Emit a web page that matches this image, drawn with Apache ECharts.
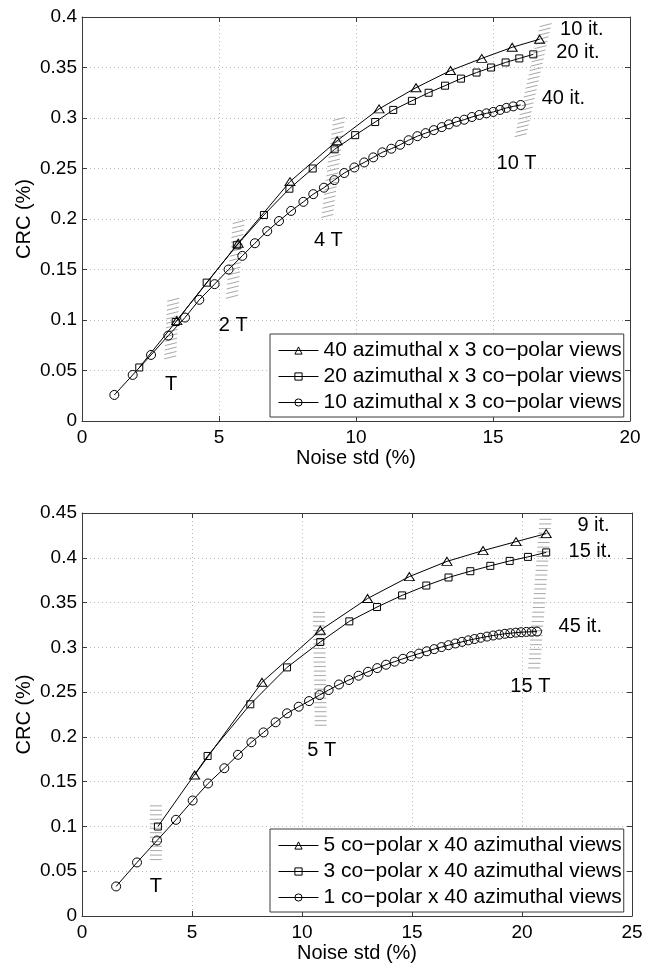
<!DOCTYPE html>
<html>
<head>
<meta charset="utf-8">
<script src="https://cdn.jsdelivr.net/npm/echarts@6/dist/echarts.min.js"></script>
<style>
html,body{margin:0;padding:0;background:#fff;}
#chart{width:656px;height:971px;}
</style>
</head>
<body>
<div id="chart"></div>
<script>
// ---------- Top chart data ----------
const topNames = ['40 azimuthal x 3 co\u2212polar views', '20 azimuthal x 3 co\u2212polar views', '10 azimuthal x 3 co\u2212polar views'];
const topTriX = [3.46, 5.70, 7.59, 9.31, 10.84, 12.19, 13.45, 14.59, 15.70, 16.70];
const topTriY = [0.0994, 0.176, 0.237, 0.2775, 0.309, 0.330, 0.347, 0.359, 0.370, 0.378];
const topSqX = [2.09, 3.42, 4.55, 5.65, 6.64, 7.57, 8.42, 9.22, 9.97, 10.70, 11.36, 12.04, 12.65, 13.25, 13.83, 14.40, 14.93, 15.46, 15.96, 16.47];
const topSqY = [0.053, 0.098, 0.137, 0.174, 0.204, 0.230, 0.250, 0.269, 0.283, 0.296, 0.308, 0.317, 0.325, 0.332, 0.339, 0.345, 0.350, 0.355, 0.359, 0.363];
const topCircX = [1.18, 1.85, 2.52, 3.15, 3.76, 4.28, 4.84, 5.35, 5.85, 6.31, 6.76, 7.19, 7.63, 8.08, 8.44, 8.83, 9.21, 9.57, 9.94, 10.30, 10.63, 10.96, 11.29, 11.61, 11.92, 12.24, 12.54, 12.84, 13.13, 13.39, 13.67, 13.95, 14.23, 14.50, 14.76, 15.01, 15.26, 15.49, 15.74, 16.01];
const topCircY = [0.0258, 0.0456, 0.0654, 0.0846, 0.1024, 0.120, 0.1355, 0.150, 0.1635, 0.176, 0.188, 0.198, 0.208, 0.217, 0.2246, 0.231, 0.2385, 0.2455, 0.251, 0.256, 0.261, 0.266, 0.2696, 0.2735, 0.278, 0.282, 0.285, 0.288, 0.291, 0.2937, 0.2963, 0.2983, 0.301, 0.303, 0.3046, 0.306, 0.308, 0.310, 0.3115, 0.3129];
// iso-time hatch bands: [x bottom, y bottom, x top, y top]
const topBandX0 = [3.22, 5.47, 8.95, 16.01];
const topBandY0 = [0.063, 0.123, 0.203, 0.283];
const topBandX1 = [3.33, 5.72, 9.38, 16.92];
const topBandY1 = [0.120, 0.197, 0.299, 0.392];
const topAnnText = ['10 it.', '20 it.', '40 it.', '10 T', '4 T', '2 T', 'T'];
const topAnnX = [18.24, 18.10, 17.57, 15.86, 8.99, 5.52, 3.25];
const topAnnY = [0.388, 0.365, 0.319, 0.255, 0.179, 0.0945, 0.036];
const topXTicks = [0, 5, 10, 15, 20];
const topYTicks = [0, 0.05, 0.1, 0.15, 0.2, 0.25, 0.3, 0.35, 0.4];

// ---------- Bottom chart data ----------
const botNames = ['5 co\u2212polar x 40 azimuthal views', '3 co\u2212polar x 40 azimuthal views', '1 co\u2212polar x 40 azimuthal views'];
const botTriX = [5.12, 8.18, 10.83, 12.98, 14.88, 16.59, 18.23, 19.73, 21.10];
const botTriY = [0.1575, 0.261, 0.319, 0.3545, 0.379, 0.396, 0.408, 0.418, 0.427];
const botSqX = [3.45, 5.71, 7.65, 9.32, 10.83, 12.15, 13.41, 14.55, 15.65, 16.66, 17.65, 18.56, 19.44, 20.27, 21.10];
const botSqY = [0.0999, 0.1787, 0.2364, 0.2776, 0.306, 0.329, 0.345, 0.358, 0.369, 0.378, 0.385, 0.391, 0.3965, 0.401, 0.406];
const botCircX = [1.55, 2.50, 3.41, 4.27, 5.03, 5.73, 6.47, 7.09, 7.70, 8.25, 8.80, 9.32, 9.85, 10.32, 10.80, 11.21,
  11.68, 12.13, 12.57, 13.00, 13.42, 13.82, 14.21, 14.59, 14.96, 15.32, 15.67, 16.01, 16.34, 16.66, 16.97, 17.27, 17.56, 17.84, 18.12, 18.41, 18.69, 18.96, 19.22, 19.47, 19.72, 19.96, 20.20, 20.44, 20.68];
const botCircY = [0.033, 0.0598, 0.0843, 0.1074, 0.129, 0.148, 0.165, 0.180, 0.194, 0.205, 0.2163, 0.2263, 0.2337, 0.240, 0.2467, 0.2523,
  0.2585, 0.2635, 0.2683, 0.2727, 0.2768, 0.2806, 0.2840, 0.2872, 0.2902, 0.2930, 0.2956, 0.2980, 0.3003, 0.3024, 0.3043, 0.3061, 0.3078, 0.3093, 0.3107, 0.3120, 0.3132, 0.3142, 0.3151, 0.3158, 0.3164, 0.3169, 0.3172, 0.3174, 0.3176];
const botBandX0 = [3.36, 10.85, 20.55];
const botBandY0 = [0.063, 0.213, 0.277];
const botBandX1 = [3.36, 10.77, 21.07];
const botBandY1 = [0.123, 0.339, 0.443];
const botAnnText = ['9 it.', '15 it.', '45 it.', '15 T', '5 T', 'T'];
const botAnnX = [23.25, 23.10, 22.65, 20.38, 10.90, 3.36];
const botAnnY = [0.436, 0.4065, 0.3237, 0.256, 0.185, 0.033];
const botXTicks = [0, 5, 10, 15, 20, 25];
const botYTicks = [0, 0.05, 0.1, 0.15, 0.2, 0.25, 0.3, 0.35, 0.4, 0.45];

// ---------- helpers ----------
const FONT = 'Liberation Sans';
const zip = (xs, ys) => xs.map((x, i) => [x, ys[i]]);
const bands = (x0, y0, x1, y1) => x0.map((x, i) => [x, y0[i], x1[i], y1[i]]);
const ann = (t, xs, ys) => t.map((s, i) => ({ name: s, value: [xs[i], ys[i]] }));

function hatchRenderer(tilt, half) {
  return function (params, api) {
    const p0 = api.coord([api.value(0), api.value(1)]);
    const p1 = api.coord([api.value(2), api.value(3)]);
    const len = Math.hypot(p1[0] - p0[0], p1[1] - p0[1]);
    const n = Math.max(1, Math.round(len / 4.6));
    const children = [];
    for (let i = 0; i <= n; i++) {
      const t = i / n;
      const cx = p0[0] + t * (p1[0] - p0[0]);
      const cy = p0[1] + t * (p1[1] - p0[1]);
      children.push({
        type: 'line',
        shape: { x1: cx - half, y1: cy + tilt / 2, x2: cx + half, y2: cy - tilt / 2 },
        style: { stroke: '#a8a8a8', lineWidth: 1 }
      });
    }
    return { type: 'group', children };
  };
}

const axisLineStyle = { color: '#3a3a3a', width: 1 };
function xAxes(gridIndex, max) {
  return [
    {
      gridIndex, type: 'value', min: 0, max, interval: 5, position: 'bottom',
      axisLine: { show: true, onZero: false, lineStyle: axisLineStyle },
      axisTick: { show: true, inside: true, length: 5, lineStyle: axisLineStyle },
      axisLabel: { color: '#000', fontSize: 19, fontFamily: FONT, margin: 7 },
      splitLine: { show: true, lineStyle: { color: '#b8b8b8', type: [1, 3], width: 1 } },
      name: 'Noise std (%)', nameLocation: 'middle', nameGap: 27, nameMoveOverlap: false,
      nameTextStyle: { color: '#000', fontSize: 20, fontFamily: FONT }
    },
    {
      gridIndex, type: 'value', min: 0, max, interval: 5, position: 'top',
      axisLine: { show: true, onZero: false, lineStyle: axisLineStyle },
      axisTick: { show: true, inside: true, length: 5, lineStyle: axisLineStyle },
      axisLabel: { show: false }, splitLine: { show: false }
    }
  ];
}
function yAxes(gridIndex, max) {
  return [
    {
      gridIndex, type: 'value', min: 0, max, interval: 0.05, position: 'left',
      axisLine: { show: true, onZero: false, lineStyle: axisLineStyle },
      axisTick: { show: true, inside: true, length: 5, lineStyle: axisLineStyle },
      axisLabel: { color: '#000', fontSize: 19, fontFamily: FONT, margin: 5 },
      splitLine: { show: true, lineStyle: { color: '#b8b8b8', type: [1, 3], width: 1 } },
      name: 'CRC (%)', nameLocation: 'middle', nameGap: 48, nameMoveOverlap: false,
      nameTextStyle: { color: '#000', fontSize: 20, fontFamily: FONT }
    },
    {
      gridIndex, type: 'value', min: 0, max, interval: 0.05, position: 'right',
      axisLine: { show: true, onZero: false, lineStyle: axisLineStyle },
      axisTick: { show: true, inside: true, length: 5, lineStyle: axisLineStyle },
      axisLabel: { show: false }, splitLine: { show: false }
    }
  ];
}

function lineSeries(name, data, xi, yi, symbol, size) {
  return {
    name, type: 'line', data, xAxisIndex: xi, yAxisIndex: yi,
    symbol, symbolSize: size, showAllSymbol: true, animation: false,
    lineStyle: { color: '#000', width: 1 },
    itemStyle: { color: 'rgba(0,0,0,0)', borderColor: '#000', borderWidth: 1 },
    emphasis: { disabled: true }, z: 5
  };
}
function hatchSeries(data, xi, yi, tilt, half) {
  return {
    type: 'custom', data, xAxisIndex: xi, yAxisIndex: yi, silent: true, animation: false,
    encode: { x: [0, 2], y: [1, 3] }, renderItem: hatchRenderer(tilt, half), z: 2
  };
}
function annSeries(data, xi, yi) {
  return {
    type: 'scatter', data, xAxisIndex: xi, yAxisIndex: yi, symbolSize: 0, silent: true, animation: false,
    itemStyle: { color: 'rgba(0,0,0,0)', opacity: 1 },
    label: {
      show: true, position: 'inside', formatter: p => p.name, color: '#000', fontSize: 20, fontFamily: FONT,
      textBorderWidth: 0, textBorderColor: 'rgba(0,0,0,0)', opacity: 1
    },
    z: 6
  };
}
function legendCfg(names, top) {
  return {
    data: names, orient: 'vertical', left: 270, top, itemWidth: 40, itemHeight: 9, itemGap: 5,
    padding: [6, 2, 4, 8], borderColor: '#3a3a3a', borderWidth: 1, backgroundColor: '#fff',
    selectedMode: false, textStyle: { color: '#000', fontSize: 21, fontFamily: FONT, lineHeight: 20 },
    itemStyle: { color: 'rgba(0,0,0,0)', borderColor: '#000', borderWidth: 1 },
    lineStyle: { color: '#000', width: 1 }
  };
}

const option = {
  animation: false,
  backgroundColor: '#fff',
  textStyle: { fontFamily: FONT },
  grid: [
    { left: 82, top: 17, width: 548, height: 404 },
    { left: 82, top: 513, width: 550, height: 403 }
  ],
  xAxis: [...xAxes(0, 20), ...xAxes(1, 25)],
  yAxis: [...yAxes(0, 0.4), ...yAxes(1, 0.45)],
  legend: [legendCfg(topNames, 334), legendCfg(botNames, 829)],
  series: [
    hatchSeries(bands(topBandX0, topBandY0, topBandX1, topBandY1), 0, 0, 3, 6),
    hatchSeries(bands(botBandX0, botBandY0, botBandX1, botBandY1), 2, 2, 0, 6),
    lineSeries(topNames[0], zip(topTriX, topTriY), 0, 0, 'triangle', [10, 8]),
    lineSeries(topNames[1], zip(topSqX, topSqY), 0, 0, 'rect', 7),
    lineSeries(topNames[2], zip(topCircX, topCircY), 0, 0, 'circle', 9),
    lineSeries(botNames[0], zip(botTriX, botTriY), 2, 2, 'triangle', [10, 8]),
    lineSeries(botNames[1], zip(botSqX, botSqY), 2, 2, 'rect', 7),
    lineSeries(botNames[2], zip(botCircX, botCircY), 2, 2, 'circle', 9),
    annSeries(ann(topAnnText, topAnnX, topAnnY), 0, 0),
    annSeries(ann(botAnnText, botAnnX, botAnnY), 2, 2)
  ]
};

const chart = echarts.init(document.getElementById('chart'), null, { renderer: 'canvas' });
chart.setOption(option);
</script>
</body>
</html>
